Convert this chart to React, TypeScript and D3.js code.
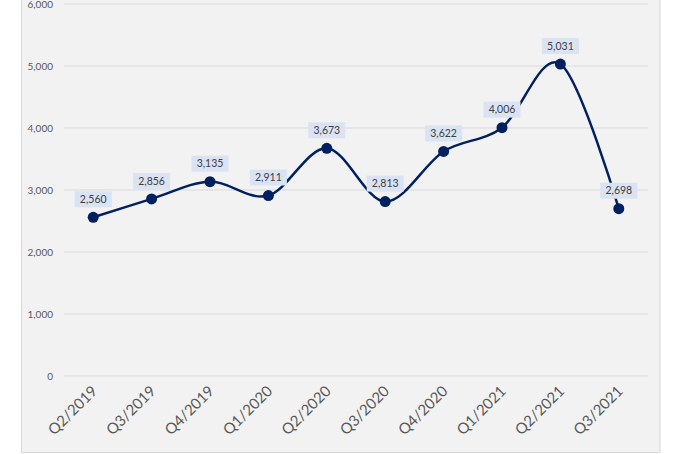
import React from "react";
import * as d3 from "d3";

const categories = ["Q2/2019","Q3/2019","Q4/2019","Q1/2020","Q2/2020","Q3/2020","Q4/2020","Q1/2021","Q2/2021","Q3/2021"];
const values = [2560, 2856, 3135, 2911, 3673, 2813, 3622, 4006, 5031, 2698];
const yTicks = [0, 1000, 2000, 3000, 4000, 5000, 6000];

const W = 682, H = 454;
const plotLeft = 64, plotRight = 648, plotTop = 4, plotBottom = 376;

export default function App() {
  const x = d3.scaleBand<string>().domain(categories).range([plotLeft, plotRight]);
  const y = d3.scaleLinear().domain([0, 6000]).range([plotBottom, plotTop]);
  const cx = (c: string) => (x(c) as number) + x.bandwidth() / 2;
  const fmt = d3.format(",");
  const line = d3.line<number>()
    .x((_, i) => cx(categories[i]))
    .y((d) => y(d))
    .curve(d3.curveCardinal.tension(0));
  const font = "Lato, 'Open Sans', sans-serif";
  return (
    <svg width={W} height={H} style={{ position: "absolute", left: 0, top: 0, background: "#fff" }} fontFamily={font}>
      <rect x={21.5} y={-10} width={638.5} height={462.5} fill="#f2f2f2" stroke="#d9d9d9" />
      {yTicks.map((t) => (
        <g key={t}>
          <line x1={plotLeft} x2={plotRight} y1={y(t)} y2={y(t)} stroke="#d9d9d9" strokeWidth={1} />
          <text x={53} y={y(t)} dy="0.35em" textAnchor="end" fontSize={10} fill="#595959">{fmt(t)}</text>
        </g>
      ))}
      {categories.map((c) => (
        <text key={c} transform={`translate(${cx(c) + 5},${plotBottom + 16}) rotate(-45)`} textAnchor="end" fontSize={15} fill="#595959">{c}</text>
      ))}
      <path d={line(values) || ""} fill="none" stroke="#002060" strokeWidth={2.5} />
      {values.map((v, i) => (
        <circle key={i} cx={cx(categories[i])} cy={y(v)} r={5.5} fill="#002060" />
      ))}
      {values.map((v, i) => {
        const px = cx(categories[i]);
        const py = y(v) - 18;
        return (
          <g key={"l" + i}>
            <rect x={px - 18.5} y={py - 8} width={37} height={16} fill="#dae3f3" />
            <text x={px} y={py} dy="0.35em" textAnchor="middle" fontSize={10.5} fill="#404040">{fmt(v)}</text>
          </g>
        );
      })}
    </svg>
  );
}
